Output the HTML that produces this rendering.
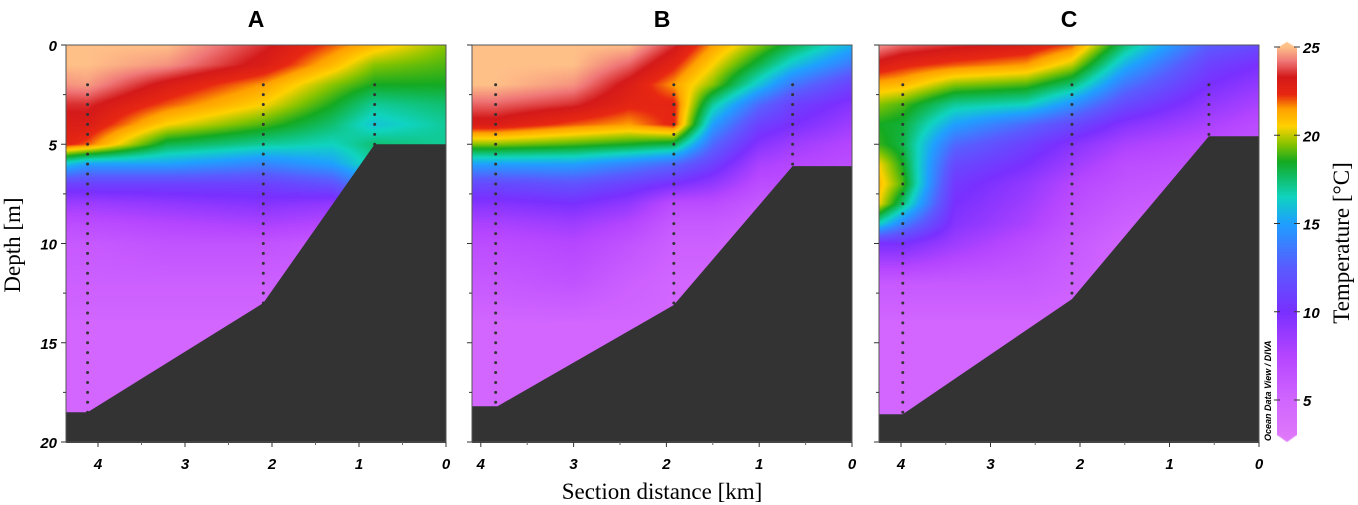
<!DOCTYPE html>
<html><head><meta charset="utf-8">
<style>
body{margin:0;width:1358px;height:505px;background:#fff;position:relative;overflow:hidden;font-family:"Liberation Sans",sans-serif}
canvas{position:absolute}
svg{position:absolute;left:0;top:0}
</style></head>
<body>
<canvas id="cA" width="380" height="397" style="left:66px;top:45px"></canvas>
<canvas id="cB" width="380" height="397" style="left:472px;top:45px"></canvas>
<canvas id="cC" width="380" height="397" style="left:879px;top:45px"></canvas>
<canvas id="cbar" width="20" height="400" style="left:1277px;top:42px"></canvas>
<svg id="ov" width="1358" height="505"></svg>
<script>
// ---- data ----
const depthLevels=[0,1,2,3,4,5,6,7,8,9,10,12,14,20];
const kmA=[4.37,4.12,3.2,2.1,1.3,0.82,0];
const tempA=[
[25,25,24.5,23.5,23,22.5,16,11,8.5,7,6,5.5,5,5],
[25,25,24.6,23.5,23,22,15,11,8.5,7,6,5.5,5,5],
[25,24.5,23,22,20.5,18,15,11,9,7.5,6.5,5.5,5,5],
[23.5,23,21.5,20.5,19,17,14,11,9.5,8,6.5,5.5,5,5],
[22,21,19.5,18.5,17.5,16.5,15,12,9,7.5,6,5.5,5,5],
[21,19.5,18.5,17,16,17.5,17,15,12,9,7,6,5,5],
[19.5,19,18.5,17.5,17,17,17,17,17,17,17,17,17,17]];
const kmB=[4.09,3.84,3,2.4,1.92,1.5,1.0,0.64,0];
const tempB=[
[25,25,25,24,23,19.5,15,11.5,9.5,8,7,6,5,5],
[25,25,25,24,23,19.5,15,11.5,9.5,8,7,6,5,5],
[25,25,24.5,23.5,22,19,15,12,10,8.5,7.5,6.5,5,5],
[25,24,23,22.5,21.5,18.5,14,11,9,7.5,6.5,5.5,5,5],
[23.5,22.5,21.5,22.5,22.5,18,13,10,7,6,5.5,5,5,5],
[21.5,20.5,19.5,17,15,13,11,9,7,6,5.5,5,5,5],
[19.5,18,16,13,11,9.5,8,7,6,5.5,5,5,5,5],
[18,16,13.5,11,10,8.5,7.5,7,6,5.5,5,5,5,5],
[15.5,13.5,11,9.5,8.5,7.5,7,6.5,6,5.5,5,5,5,5]];
const kmC=[4.25,3.98,3.4,2.6,2.09,1.5,0.56,0];
const tempC=[
[24.5,23,21.2,19.5,18.5,18.8,20.5,21,20.5,16.5,10,6,5,5],
[24,22.5,21,19,18.2,18,18.5,19,17.5,14,10,6,5,5],
[23.5,22,19.5,17,15,13,11.5,10.5,10,9.5,8.5,6,5,5],
[23,21.5,19,16.5,13,11,10,9,8.5,8,7,6,5,5],
[22,20,17.5,14.5,11.5,9.5,8.5,7.5,7,6.5,6,5.5,5,5],
[17.5,15.5,13.5,11.5,9.5,8,7,6.5,6,5.5,5,5,5,5],
[12.5,11,10,9,8,7,6.5,6,5.5,5,5,5,5,5],
[11.5,10,9,8,7,6.5,6,5.5,5,5,5,5,5,5]];
const bottomKmA=[4.37,4.12,2.1,0.82,0], bottomDepthA=[18.5,18.5,13,5,5];
const bottomKmB=[4.09,3.82,1.92,0.64,0], bottomDepthB=[18.2,18.2,13.1,6.1,6.1];
const bottomKmC=[4.25,3.98,2.09,0.56,0], bottomDepthC=[18.6,18.6,12.8,4.6,4.6];
const stationKmA=[4.12,2.1,0.82], stationMaxA=[18.5,13,5];
const stationKmB=[3.84,1.92,0.64], stationMaxB=[18.2,13,6];
const stationKmC=[3.98,2.09,0.56], stationMaxC=[18.5,12.7,4.6];
const xTicks=[4,3,2,1,0];
const yTicks=[0,5,10,15,20];
const cbTicks=[25,20,15,10,5];
// colormap
const cmV=[2.5,5,7.5,10,12.5,15,16.5,17.5,18.5,19.5,20.5,21.5,22.3,23.3,24.2,25];
const cmC=["#e27cfa","#d266ff","#b646ff","#7a30ff","#5a5cff","#1fa0ff","#10d4c0","#10c070","#14aa22","#88c400","#ffd200","#ffa000","#e82812","#d41a1a","#f07878","#ffc088"];
function hex(h){return[parseInt(h.slice(1,3),16),parseInt(h.slice(3,5),16),parseInt(h.slice(5,7),16)]}
const cmRGB=cmC.map(hex);
function cmap(v){if(v<=cmV[0])return cmRGB[0];for(let i=1;i<cmV.length;i++){if(v<=cmV[i]){const t=(v-cmV[i-1])/(cmV[i]-cmV[i-1]);const a=cmRGB[i-1],b=cmRGB[i];return[a[0]+(b[0]-a[0])*t,a[1]+(b[1]-a[1])*t,a[2]+(b[2]-a[2])*t]}}return cmRGB[cmRGB.length-1]}
function interp1(xs,ys,x){
  for(let i=1;i<xs.length;i++){const a=xs[i-1],b=xs[i];if((x-a)*(x-b)<=0){const t=(x-a)/(b-a||1);return ys[i-1]+(ys[i]-ys[i-1])*t}}
  return Math.abs(x-xs[0])<Math.abs(x-xs[xs.length-1])?ys[0]:ys[ys.length-1];
}
const panels=[
 {id:'cA',key:'a',left:66,right:446,ppk:87,km:kmA,temp:tempA,bk:bottomKmA,bd:bottomDepthA,sk:stationKmA,sm:stationMaxA,title:'A'},
 {id:'cB',key:'b',left:472,right:852,ppk:92.8,km:kmB,temp:tempB,bk:bottomKmB,bd:bottomDepthB,sk:stationKmB,sm:stationMaxB,title:'B'},
 {id:'cC',key:'c',left:879,right:1259,ppk:89.5,km:kmC,temp:tempC,bk:bottomKmC,bd:bottomDepthC,sk:stationKmC,sm:stationMaxC,title:'C'}];
const top0=45, ppm=19.85;
const yOf=d=>top0+d*ppm;
const NS='http://www.w3.org/2000/svg';
const ov=document.getElementById('ov');
function el(tag,attrs,parent){const e=document.createElementNS(NS,tag);for(const k in attrs)e.setAttribute(k,attrs[k]);(parent||ov).appendChild(e);return e}
panels.forEach(p=>{
  const xOf=k=>p.right-k*p.ppk;
  const cv=document.getElementById(p.id),ctx=cv.getContext('2d');
  const W=cv.width,H=cv.height,img=ctx.createImageData(W,H);
  for(let px=0;px<W;px++){
    const k=(p.right-(p.left+px+0.5))/p.ppk;
    const col=depthLevels.map((_,j)=>interp1(p.km,p.temp.map(r=>r[j]),k));
    for(let py=0;py<H;py++){
      const d=(py+0.5)/ppm;
      const c=cmap(interp1(depthLevels,col,d));
      const o=(py*W+px)*4;img.data[o]=c[0];img.data[o+1]=c[1];img.data[o+2]=c[2];img.data[o+3]=255;
    }
  }
  ctx.putImageData(img,0,0);
  const g=el('g',{});
  
  
  let pts=p.bk.map((k,i)=>xOf(k)+','+yOf(p.bd[i])).join(' ');
  pts+=' '+p.right+','+(yOf(20)+1)+' '+p.left+','+(yOf(20)+1);
  const bt=el('polygon',{points:pts,fill:'#333333'},g);
  
  
  p.sk.forEach((k,i)=>{
    const sg=el('g',{},g);
    
    
    for(let d=2;d<=p.sm[i]+0.01;d+=0.5){el('circle',{cx:xOf(k),cy:yOf(d),r:1.5,fill:'#333'},sg)}
  });
  const fr=el('rect',{x:p.left,y:top0,width:p.right-p.left,height:yOf(20)-top0,fill:'none',stroke:'#555','stroke-width':1},g);
  
  
  xTicks.forEach(t=>{
    el('line',{x1:xOf(t),x2:xOf(t),y1:yOf(20),y2:yOf(20)+5,stroke:'#333'},g);
    if(t>0)el('line',{x1:xOf(t-0.5),x2:xOf(t-0.5),y1:yOf(20),y2:yOf(20)+3,stroke:'#666'},g);
    const tx=el('text',{x:xOf(t),y:469,'text-anchor':'middle','font-size':15,'font-weight':'bold','font-style':'italic'},g);
    tx.textContent=t;
    
    
  });
  for(let d=0;d<=20;d+=2.5){el('line',{x1:p.left-(d%5==0?5:3),x2:p.left,y1:yOf(d),y2:yOf(d),stroke:'#333'},g)}
  const tt=el('text',{x:(p.left+p.right)/2,y:27,'text-anchor':'middle','font-size':23,'font-weight':'bold'},g);
  tt.textContent=p.title;
  
  
});
yTicks.forEach(t=>{
  const tx=el('text',{x:57,y:yOf(t)+6,'text-anchor':'end','font-size':15,'font-weight':'bold','font-style':'italic'});
  tx.textContent=t;
  
  
});
const yl=el('text',{x:0,y:0,transform:'translate(20,245) rotate(-90)','text-anchor':'middle','font-size':23,'font-family':'Liberation Serif, serif'});
yl.textContent='Depth [m]';


const xl=el('text',{x:662,y:499,'text-anchor':'middle','font-size':23,'font-family':'Liberation Serif, serif'});
xl.textContent='Section distance [km]';


const cb=document.getElementById('cbar'),cx=cb.getContext('2d');
const cbTop=47,cbPer=17.65;
for(let y=0;y<400;y++){const v=25-((42+y+0.5)-cbTop)/cbPer;const c=cmap(v);cx.fillStyle=`rgb(${c[0]|0},${c[1]|0},${c[2]|0})`;cx.fillRect(0,y,20,1)}
cx.globalCompositeOperation='destination-out';
cx.beginPath();cx.moveTo(0,0);cx.lineTo(10,0);cx.lineTo(0,6);cx.fill();
cx.beginPath();cx.moveTo(20,0);cx.lineTo(10,0);cx.lineTo(20,6);cx.fill();
cx.beginPath();cx.moveTo(0,400);cx.lineTo(10,400);cx.lineTo(0,393);cx.fill();
cx.beginPath();cx.moveTo(20,400);cx.lineTo(10,400);cx.lineTo(20,393);cx.fill();
cbTicks.forEach(t=>{
  const y=cbTop+(25-t)*cbPer;
  el('line',{x1:1274,x2:1280,y1:y,y2:y,stroke:'#333'});
  el('line',{x1:1294,x2:1300,y1:y,y2:y,stroke:'#333'});
  const tx=el('text',{x:1303,y:y+6,'font-size':15,'font-weight':'bold','font-style':'italic'});
  tx.textContent=t;
  
  
});
const ct=el('text',{x:0,y:0,transform:'translate(1349,243) rotate(-90)','text-anchor':'middle','font-size':23,'font-family':'Liberation Serif, serif'});
ct.textContent='Temperature [°C]';


const odv=el('text',{x:0,y:0,transform:'translate(1271,441) rotate(-90)','font-size':9,'font-weight':'bold','font-style':'italic'});
odv.textContent='Ocean Data View / DIVA';


</script>
</body></html>
